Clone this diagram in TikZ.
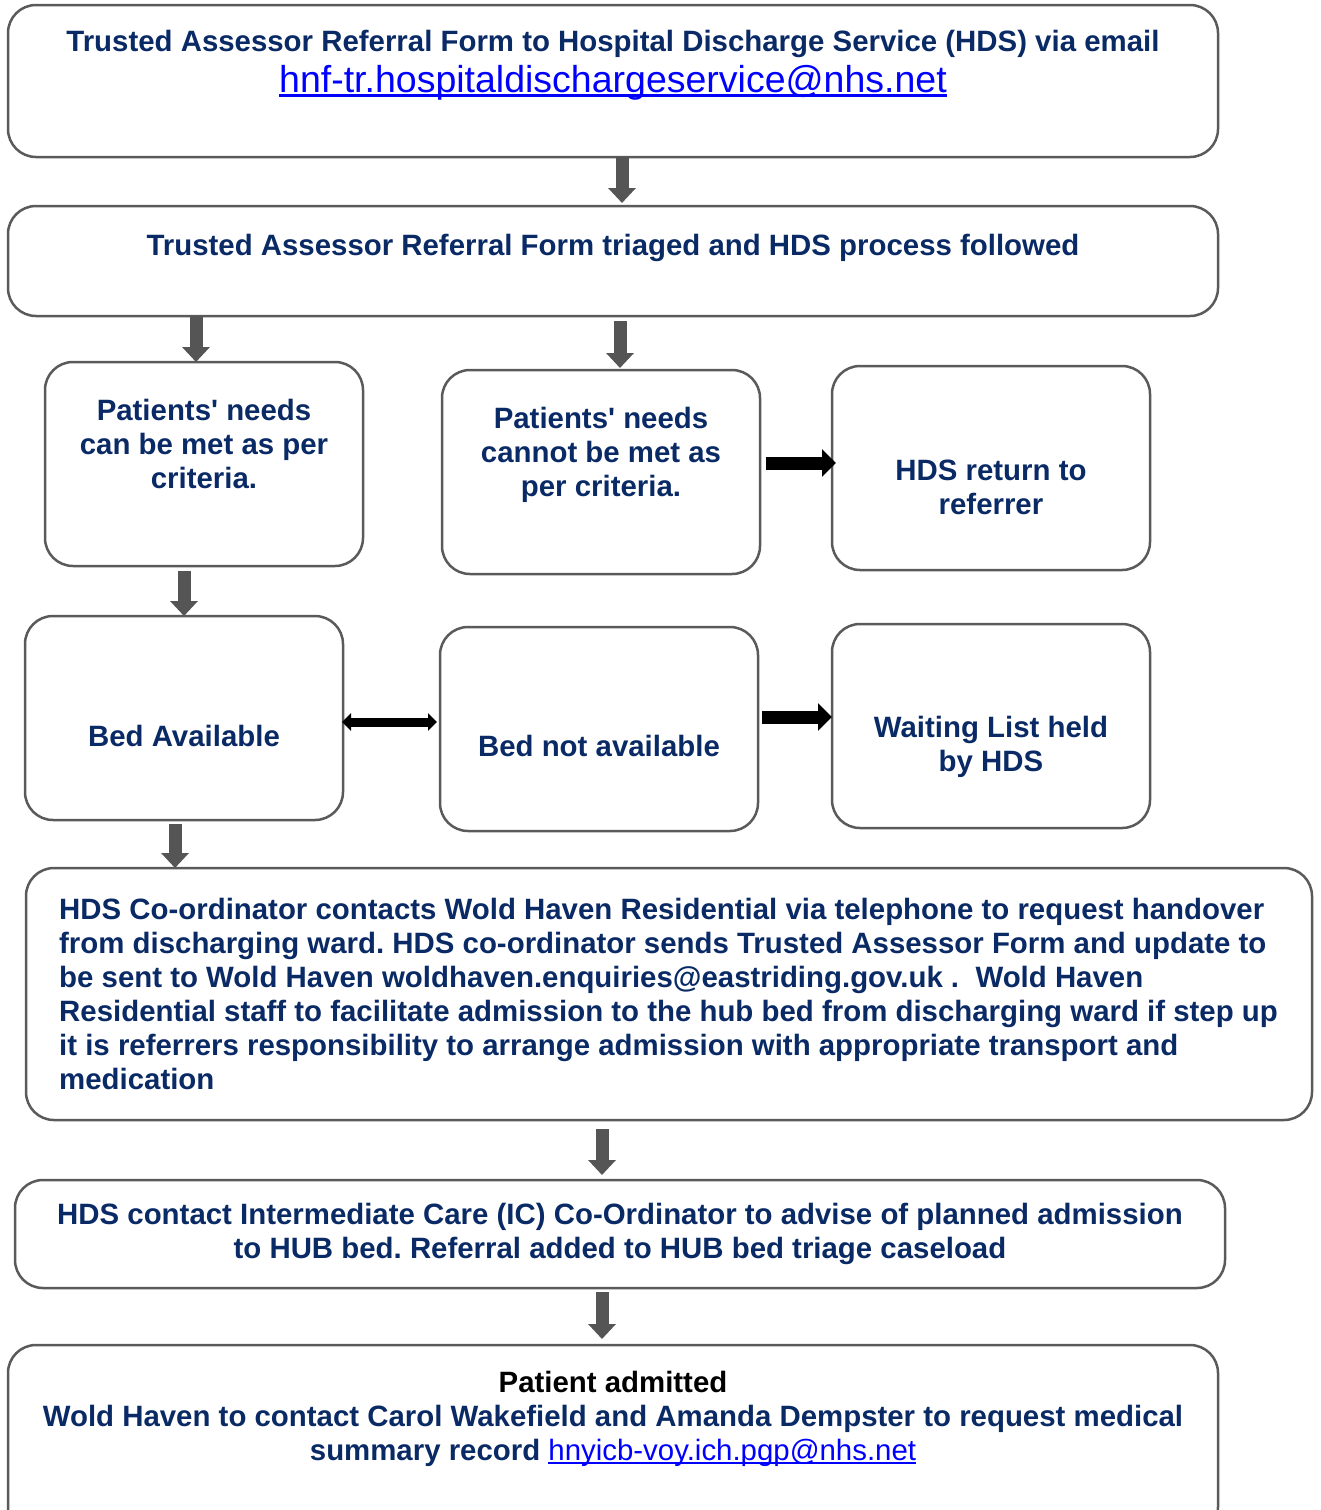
\documentclass[tikz,border=0pt]{standalone}
\usepackage{fontspec}
\setmainfont{Liberation Sans}
\usetikzlibrary{arrows.meta,positioning}
\definecolor{navy}{HTML}{0A2A66}
\definecolor{linkblue}{HTML}{0000FF}
\definecolor{frame}{HTML}{5A5A5A}
\definecolor{arrowgray}{HTML}{555555}
\newcommand\lnk[1]{\sbox0{#1}\rlap{\usebox0}\rule[-0.11em]{\wd0}{0.075em}}
\frenchspacing

\begin{document}
\begin{tikzpicture}[x=1pt, y=-1pt,
    box/.style={draw=frame, line width=2.5pt, rounded corners=28pt, inner sep=0pt, outer sep=0pt},
    txt/.style={text=navy, font=\bfseries\fontsize{29.4}{34}\selectfont, align=center, inner sep=0pt},
    down/.style={draw=arrowgray, line width=13pt, -{Triangle[width=27pt,length=15pt]}},
    across/.style={draw=black, line width=13pt, -{Triangle[width=27pt,length=14pt]}},
    twoway/.style={draw=black, line width=9pt, {Triangle[width=17pt,length=9pt]}-{Triangle[width=17pt,length=9pt]}}]
    \useasboundingbox (0,0) rectangle (1321,1510);

    \node[box, minimum width=1210, minimum height=152] (ref) at (613,81) {};
    \node[box, minimum width=1210, minimum height=110] (triage) at (613,261) {};
    \node[box, minimum width=318, minimum height=204] (met) at (204,464) {};
    \node[box, minimum width=318, minimum height=204] (notmet) at (601,472) {};
    \node[box, minimum width=318, minimum height=204] (ret) at (991,468) {};
    \node[box, minimum width=318, minimum height=204] (bed) at (184,718) {};
    \node[box, minimum width=318, minimum height=204] (nobed) at (599,729) {};
    \node[box, minimum width=318, minimum height=204] (wait) at (991,726) {};
    \node[box, minimum width=1286, minimum height=252] (hand) at (669,994) {};
    \node[box, minimum width=1210, minimum height=108] (ic) at (620,1234) {};
    \node[box, minimum width=1210, minimum height=190] (adm) at (613,1440) {};

    \node[txt] (reft) at (613,44) {Trusted Assessor Referral Form to Hospital Discharge Service (HDS) via email};
    \node[txt, font=\fontsize{37.5}{42}\selectfont, text=linkblue] (refm) at (613,83) {\lnk{hnf-tr.hospitaldischargeservice@nhs.net}};
    \node[txt] (triaget) at (613,248) {Trusted Assessor Referral Form triaged and HDS process followed};
    \node[txt] (mett) at (204,444) {Patients\textquotesingle\ needs\\can be met as per\\criteria.};
    \node[txt] (notmett) at (601,455) {Patients\textquotesingle\ needs\\cannot be met as\\per criteria.};
    \node[txt] (rett) at (991,487) {HDS return to\\referrer};
    \node[txt] (bedt) at (184,736) {Bed Available};
    \node[txt] (nobedt) at (599,746) {Bed not available};
    \node[txt] (waitt) at (991,747) {Waiting List held\\by HDS};
    \node[txt, align=left, anchor=west] (handt) at (59,994) {HDS Co-ordinator contacts Wold Haven Residential via telephone to request handover\\
        from discharging ward. HDS co-ordinator sends Trusted Assessor Form and update to\\
        be sent to Wold Haven woldhaven.enquiries@eastriding.gov.uk .\ \ Wold Haven\\
        Residential staff to facilitate admission to the hub bed from discharging ward if step up\\
        it is referrers responsibility to arrange admission with appropriate transport and\\
        medication};
    \node[txt] (ict) at (620,1234) {HDS contact Intermediate Care (IC) Co-Ordinator to advise of planned admission\\
        to HUB bed. Referral added to HUB bed triage caseload};
    \node[txt] (admt) at (613,1419) {\textcolor{black}{Patient admitted}\\
        Wold Haven to contact Carol Wakefield and Amanda Dempster to request medical\\
        summary record {\color{linkblue}\mdseries\lnk{hnyicb-voy.ich.pgp@nhs.net}}};

    \draw[down, shorten >=3pt] ([xshift=9pt]ref.south) -- ([xshift=9pt]triage.north);
    \draw[down] ([xshift=-8pt]triage.south -| met.north) -- ([xshift=-8pt]met.north);
    \draw[down, shorten <=5pt, shorten >=2pt] ([xshift=19pt]triage.south -| notmet.north) -- ([xshift=19pt]notmet.north);
    \draw[across, shorten <=6pt, shorten >=-4pt] ([yshift=9pt]notmet.east) -- ([yshift=9pt]notmet.east -| ret.west);
    \draw[down, shorten <=5pt] (met.south -| bed.north) -- (bed.north);
    \draw[twoway, shorten <=-1pt, shorten >=3pt] ([yshift=-4pt]bed.east) -- ([yshift=-4pt]bed.east -| nobed.west);
    \draw[across, shorten <=4pt] ([yshift=12pt]nobed.east) -- ([yshift=12pt]nobed.east -| wait.west);
    \draw[down, shorten <=4pt] ([xshift=-9pt]bed.south) -- ([xshift=-9pt]bed.south |- hand.north);
    \draw[down, shorten <=9pt, shorten >=5pt] ([xshift=-18pt]hand.south -| ic.north) -- ([xshift=-18pt]ic.north);
    \draw[down, shorten <=4pt, shorten >=6pt] ([xshift=-18pt]ic.south) -- ([xshift=-18pt]ic.south |- adm.north);
\end{tikzpicture}
\end{document}
